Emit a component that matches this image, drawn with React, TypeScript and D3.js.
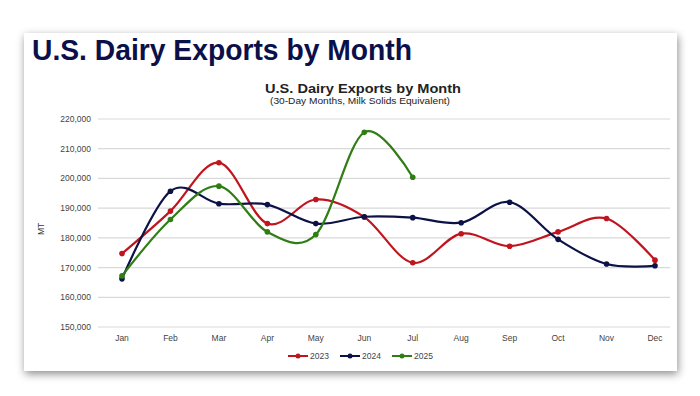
import React from "react";
import * as d3 from "d3";

const months = ["Jan", "Feb", "Mar", "Apr", "May", "Jun", "Jul", "Aug", "Sep", "Oct", "Nov", "Dec"];
const yTicks = [150000, 160000, 170000, 180000, 190000, 200000, 210000, 220000];

const exports2023 = [174700, 189000, 205300, 184800, 192900, 187000, 171600, 181400, 177200, 182000, 186500, 172500];
const exports2024 = [166200, 195700, 191500, 191200, 184800, 187100, 186800, 185100, 192000, 179500, 171200, 170600];
const exports2025 = [167200, 186200, 197400, 182000, 181100, 215500, 200400];

const series = [
  { name: "2023", color: "#c0141e", values: exports2023 },
  { name: "2024", color: "#0c1245", values: exports2024 },
  { name: "2025", color: "#2f7d14", values: exports2025 },
];

const font = "'Liberation Sans', Arial, sans-serif";

const App = () => {
  const width = 700;
  const height = 396;

  const x = d3.scalePoint<string>().domain(months).range([122, 655]);
  const y = d3.scaleLinear().domain([150000, 220000]).range([327, 119]);

  const line = d3
    .line<number>()
    .x((_, i) => x(months[i]) as number)
    .y((d) => y(d))
    .curve(d3.curveCardinal.tension(0));

  const fmt = d3.format(",");

  return (
    <svg
      width={width}
      height={height}
      style={{ position: "absolute", left: 0, top: 0 }}
      fontFamily={font}
    >
      <defs>
        <filter id="shadow" x="-10%" y="-10%" width="120%" height="125%">
          <feDropShadow dx="1" dy="3" stdDeviation="4" floodColor="#000" floodOpacity="0.45" />
        </filter>
      </defs>
      <rect x={0} y={0} width={width} height={height} fill="#fff" />
      <rect x={24} y={33} width={653} height={338} fill="#fff" filter="url(#shadow)" />

      <text x={32} y={60} fontSize={30} fontWeight="bold" fill="#0b104a" textLength={380} lengthAdjust="spacingAndGlyphs">
        U.S. Dairy Exports by Month
      </text>

      <text x={363} y={93} fontSize={13} fontWeight="bold" fill="#222" textAnchor="middle" textLength={196} lengthAdjust="spacingAndGlyphs">
        U.S. Dairy Exports by Month
      </text>
      <text x={360} y={103.5} fontSize={9} fill="#222" textAnchor="middle" textLength={180} lengthAdjust="spacingAndGlyphs">
        (30-Day Months, Milk Solids Equivalent)
      </text>

      {yTicks.map((t) => (
        <g key={t}>
          <line x1={98} x2={670} y1={y(t)} y2={y(t)} stroke="#d9d9d9" strokeWidth={1.2} />
          <text x={91} y={y(t) + 3} fontSize={8.5} fill="#444" textAnchor="end">
            {fmt(t)}
          </text>
        </g>
      ))}

      <text transform={`translate(44, ${y(183000)}) rotate(-90)`} fontSize={8.5} fill="#333" textAnchor="middle">
        MT
      </text>

      {months.map((m) => (
        <text key={m} x={x(m)} y={341} fontSize={8.5} fill="#444" textAnchor="middle">
          {m}
        </text>
      ))}

      {series.map((s) => (
        <g key={s.name}>
          <path d={line(s.values) ?? ""} fill="none" stroke={s.color} strokeWidth={2.2} />
          {s.values.map((v, i) => (
            <circle key={i} cx={x(months[i])} cy={y(v)} r={2.8} fill={s.color} />
          ))}
        </g>
      ))}

      {series.map((s, i) => {
        const lx = 288 + i * 52;
        return (
          <g key={s.name}>
            <line x1={lx} x2={lx + 20} y1={356} y2={356} stroke={s.color} strokeWidth={2} />
            <circle cx={lx + 10} cy={356} r={2.5} fill={s.color} />
            <text x={lx + 22} y={359} fontSize={8.5} fill="#444">
              {s.name}
            </text>
          </g>
        );
      })}
    </svg>
  );
};

export default App;
